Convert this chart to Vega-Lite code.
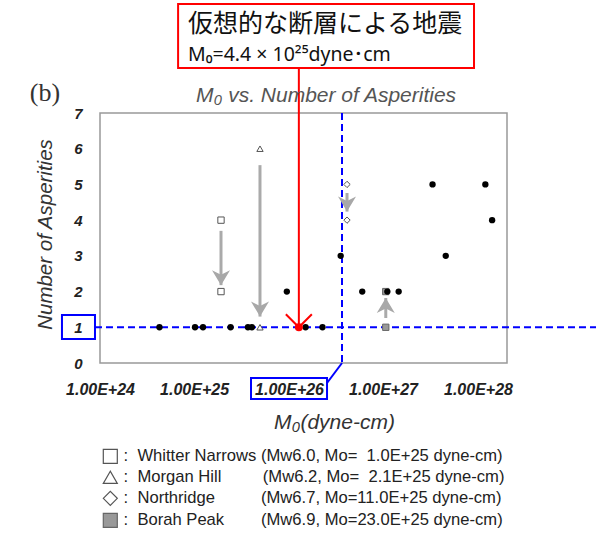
{
  "$schema": "https://vega.github.io/schema/vega-lite/v6.json",
  "width": 407,
  "height": 250,
  "autosize": {"type": "none"},
  "padding": {"left": 100, "top": 113, "right": 89, "bottom": 171},
  "background": "white",
  "config": {"view": {"stroke": "#999", "strokeWidth": 1.5}, "font": "Liberation Sans"},
  "datasets": {
    "dots": [
      {"M0": 3.1e24, "n": 1}, {"M0": 6.1e24, "n": 1}, {"M0": 7.1e24, "n": 1}, {"M0": 1.2e25, "n": 1},
      {"M0": 1.67e25, "n": 1}, {"M0": 1.8e25, "n": 1}, {"M0": 5.0e25, "n": 1}, {"M0": 6.9e25, "n": 1},
      {"M0": 3.5e25, "n": 2}, {"M0": 1.47e26, "n": 2}, {"M0": 2.37e26, "n": 2}, {"M0": 2.94e26, "n": 2},
      {"M0": 9.75e25, "n": 3}, {"M0": 7.2e26, "n": 3},
      {"M0": 1.74e27, "n": 4},
      {"M0": 5.6e26, "n": 5}, {"M0": 1.53e27, "n": 5}
    ],
    "events": [
      {"event": "Whitter Narrows", "M0": 1.0e25, "n": 4}, {"event": "Whitter Narrows", "M0": 1.0e25, "n": 2},
      {"event": "Morgan Hill", "M0": 2.1e25, "n": 6}, {"event": "Morgan Hill", "M0": 2.1e25, "n": 1},
      {"event": "Northridge", "M0": 1.1e26, "n": 5}, {"event": "Northridge", "M0": 1.1e26, "n": 4},
      {"event": "Borah Peak", "M0": 2.3e26, "n": 1}, {"event": "Borah Peak", "M0": 2.3e26, "n": 2}
    ],
    "arrows": [
      {"event": "Whitter Narrows", "M0": 1.0e25, "n": 2.18, "n2": 3.7, "dir": "down"},
      {"event": "Morgan Hill", "M0": 2.1e25, "n": 1.3, "n2": 5.54, "dir": "down"},
      {"event": "Northridge", "M0": 1.1e26, "n": 4.24, "n2": 4.76, "dir": "down"},
      {"event": "Borah Peak", "M0": 2.3e26, "n": 1.82, "n2": 1.26, "dir": "up"}
    ],
    "target": [{"label": "仮想的な断層による地震", "M0": 4.4e25, "n": 1, "n2": 8.26}]
  },
  "encoding": {
    "x": {
      "field": "M0", "type": "quantitative",
      "scale": {"type": "log", "domain": [1e24, 2.31e27], "nice": false},
      "axis": {
        "title": "M₀(dyne-cm)",
        "values": [1e24, 5.99e24, 3.65e25, 2.18e26, 1.33e27],
        "labelExpr": "datum.value < 2e24 ? '1.00E+24' : datum.value < 1e25 ? '1.00E+25' : datum.value < 1e26 ? '1.00E+26' : datum.value < 5e26 ? '1.00E+27' : '1.00E+28'",
        "ticks": false, "domain": false, "grid": false, "labelFlush": false, "labelOverlap": false,
        "labelFont": "Liberation Sans", "labelFontSize": 16, "labelFontStyle": "italic", "labelFontWeight": "bold",
        "labelColor": "#222", "labelPadding": 18,
        "titleFont": "Liberation Sans", "titleFontSize": 21, "titleFontStyle": "italic", "titleFontWeight": "normal",
        "titleColor": "#333", "titleX": 234, "titleY": 59, "titleBaseline": "middle", "titleAlign": "center"
      }
    },
    "y": {
      "field": "n", "type": "quantitative",
      "scale": {"domain": [0, 7], "nice": false, "zero": false},
      "axis": {
        "title": "Number of Asperities",
        "values": [0, 1, 2, 3, 4, 5, 6, 7],
        "ticks": false, "domain": false, "grid": false,
        "labelFont": "Liberation Sans", "labelFontSize": 15, "labelFontStyle": "italic", "labelFontWeight": "bold",
        "labelColor": "#222", "labelPadding": 18,
        "titleFont": "Liberation Sans", "titleFontSize": 20.5, "titleFontStyle": "italic", "titleFontWeight": "normal",
        "titleColor": "#333", "titleX": -55, "titleY": 121, "titleAngle": -90, "titleBaseline": "middle", "titleAlign": "center"
      }
    }
  },
  "layer": [
    {
      "data": {"values": [{"M0": 9.09e23, "M0b": 1.26e28, "n": 1}]},
      "mark": {"type": "rule", "stroke": "#0000ff", "strokeWidth": 2, "strokeDash": [7, 4]},
      "encoding": {"x2": {"field": "M0b"}}
    },
    {
      "data": {"values": [{"M0": 1e26, "n": 7, "n2": 0}]},
      "mark": {"type": "rule", "stroke": "#0000ff", "strokeWidth": 2, "strokeDash": [7, 4]},
      "encoding": {"y2": {"field": "n2"}}
    },
    {
      "data": {"values": [{"M0": 1e26, "M0b": 7.52e25, "n": 0, "n2": -0.56}]},
      "mark": {"type": "rule", "stroke": "#0000ff", "strokeWidth": 2},
      "encoding": {"x2": {"field": "M0b"}, "y2": {"field": "n2"}}
    },
    {
      "data": {"values": [
        {"M0": 4.85e23, "M0b": 9.09e23, "n": 1.344, "n2": 0.672},
        {"M0": 1.77e25, "M0b": 7.52e25, "n": -0.42, "n2": -1.008}
      ]},
      "mark": {"type": "rect", "fill": "transparent", "stroke": "#0000ff", "strokeWidth": 2},
      "encoding": {"x2": {"field": "M0b"}, "y2": {"field": "n2"}}
    },
    {
      "data": {"name": "arrows"},
      "mark": {"type": "rule", "stroke": "#aaaaaa", "strokeWidth": 3},
      "encoding": {"y2": {"field": "n2"}}
    },
    {
      "data": {"name": "arrows"},
      "transform": [{"filter": "datum.dir == 'down'"}],
      "mark": {"type": "point", "shape": "M0,0L-0.6,-1L0,-0.7L0.6,-1Z", "filled": true, "color": "#a8a8a8", "size": 900, "opacity": 1}
    },
    {
      "data": {"name": "arrows"},
      "transform": [{"filter": "datum.dir == 'up'"}],
      "mark": {"type": "point", "shape": "M0,0L-0.6,1L0,0.7L0.6,1Z", "filled": true, "color": "#a8a8a8", "size": 900, "opacity": 1}
    },
    {
      "data": {"name": "events"},
      "mark": {"type": "point", "strokeWidth": 1, "size": 40, "opacity": 1},
      "encoding": {
        "shape": {
          "field": "event", "type": "nominal",
          "scale": {"domain": ["Whitter Narrows", "Morgan Hill", "Northridge", "Borah Peak"], "range": ["square", "triangle-up", "diamond", "square"]},
          "legend": {
            "orient": "none", "legendX": 2, "legendY": 335, "title": null, "direction": "vertical",
            "symbolSize": 196, "symbolStrokeWidth": 1.2,
            "labelFont": "Liberation Sans", "labelFontSize": 16.6, "labelColor": "#222", "labelOffset": 5, "labelLimit": 600,
            "rowPadding": 2, "padding": 0,
            "labelExpr": "datum.label == 'Whitter Narrows' ? ':\u00a0\u00a0Whitter Narrows\u00a0(Mw6.0, Mo=\u00a0\u00a01.0E+25 dyne-cm)' : datum.label == 'Morgan Hill' ? ':\u00a0\u00a0Morgan Hill\u00a0\u00a0\u00a0\u00a0\u00a0\u00a0\u00a0\u00a0\u00a0(Mw6.2, Mo=\u00a0\u00a02.1E+25 dyne-cm)' : datum.label == 'Northridge' ? ':\u00a0\u00a0Northridge\u00a0\u00a0\u00a0\u00a0\u00a0\u00a0\u00a0\u00a0\u00a0\u00a0(Mw6.7, Mo=11.0E+25 dyne-cm)' : ':\u00a0\u00a0Borah Peak\u00a0\u00a0\u00a0\u00a0\u00a0\u00a0\u00a0\u00a0(Mw6.9, Mo=23.0E+25 dyne-cm)'"
          }
        },
        "fill": {
          "field": "event", "type": "nominal",
          "scale": {"domain": ["Whitter Narrows", "Morgan Hill", "Northridge", "Borah Peak"], "range": ["white", "white", "white", "#999999"]},
          "legend": {
            "orient": "none", "legendX": 2, "legendY": 335, "title": null, "direction": "vertical",
            "symbolSize": 196, "symbolStrokeWidth": 1.2,
            "labelFont": "Liberation Sans", "labelFontSize": 16.6, "labelColor": "#222", "labelOffset": 5, "labelLimit": 600,
            "rowPadding": 2, "padding": 0,
            "labelExpr": "datum.label == 'Whitter Narrows' ? ':\u00a0\u00a0Whitter Narrows\u00a0(Mw6.0, Mo=\u00a0\u00a01.0E+25 dyne-cm)' : datum.label == 'Morgan Hill' ? ':\u00a0\u00a0Morgan Hill\u00a0\u00a0\u00a0\u00a0\u00a0\u00a0\u00a0\u00a0\u00a0(Mw6.2, Mo=\u00a0\u00a02.1E+25 dyne-cm)' : datum.label == 'Northridge' ? ':\u00a0\u00a0Northridge\u00a0\u00a0\u00a0\u00a0\u00a0\u00a0\u00a0\u00a0\u00a0\u00a0(Mw6.7, Mo=11.0E+25 dyne-cm)' : ':\u00a0\u00a0Borah Peak\u00a0\u00a0\u00a0\u00a0\u00a0\u00a0\u00a0\u00a0(Mw6.9, Mo=23.0E+25 dyne-cm)'"
          }
        },
        "stroke": {
          "field": "event", "type": "nominal",
          "scale": {"domain": ["Whitter Narrows", "Morgan Hill", "Northridge", "Borah Peak"], "range": ["#555555", "#555555", "#555555", "#666666"]},
          "legend": {
            "orient": "none", "legendX": 2, "legendY": 335, "title": null, "direction": "vertical",
            "symbolSize": 196, "symbolStrokeWidth": 1.2,
            "labelFont": "Liberation Sans", "labelFontSize": 16.6, "labelColor": "#222", "labelOffset": 5, "labelLimit": 600,
            "rowPadding": 2, "padding": 0,
            "labelExpr": "datum.label == 'Whitter Narrows' ? ':\u00a0\u00a0Whitter Narrows\u00a0(Mw6.0, Mo=\u00a0\u00a01.0E+25 dyne-cm)' : datum.label == 'Morgan Hill' ? ':\u00a0\u00a0Morgan Hill\u00a0\u00a0\u00a0\u00a0\u00a0\u00a0\u00a0\u00a0\u00a0(Mw6.2, Mo=\u00a0\u00a02.1E+25 dyne-cm)' : datum.label == 'Northridge' ? ':\u00a0\u00a0Northridge\u00a0\u00a0\u00a0\u00a0\u00a0\u00a0\u00a0\u00a0\u00a0\u00a0(Mw6.7, Mo=11.0E+25 dyne-cm)' : ':\u00a0\u00a0Borah Peak\u00a0\u00a0\u00a0\u00a0\u00a0\u00a0\u00a0\u00a0(Mw6.9, Mo=23.0E+25 dyne-cm)'"
          }
        }
      }
    },
    {
      "data": {"name": "dots"},
      "mark": {"type": "point", "filled": true, "color": "#000000", "size": 40, "opacity": 1}
    },
    {
      "data": {"name": "target"},
      "mark": {"type": "rule", "stroke": "#ff0000", "strokeWidth": 2},
      "encoding": {"y2": {"field": "n2"}}
    },
    {
      "data": {"name": "target"},
      "mark": {"type": "point", "shape": "M-1,-1L0,0L1,-1", "filled": false, "color": "#ff0000", "strokeWidth": 2, "size": 676, "opacity": 1}
    },
    {
      "data": {"name": "target"},
      "mark": {"type": "point", "filled": true, "color": "#ff0000", "size": 64, "opacity": 1}
    },
    {
      "data": {"values": [{"M0": 4.42e24, "M0b": 1.233e27, "n": 10.05, "n2": 8.26}]},
      "mark": {"type": "rect", "fill": "white", "stroke": "#ff0000", "strokeWidth": 2},
      "encoding": {"x2": {"field": "M0b"}, "y2": {"field": "n2"}}
    },
    {
      "data": {"values": [{"text": "仮想的な断層による地震", "M0": 5.34e24, "n": 9.49}]},
      "mark": {"type": "text", "align": "left", "baseline": "middle", "font": "Noto Sans CJK JP", "fontSize": 25, "color": "#111"},
      "encoding": {"text": {"field": "text"}}
    },
    {
      "data": {"values": [{"text": "M₀=4.4 × 10²⁵dyne･cm", "M0": 5.34e24, "n": 8.62}]},
      "mark": {"type": "text", "align": "left", "baseline": "middle", "font": "'Noto Sans', 'Noto Sans CJK JP'", "fontSize": 19.5, "color": "#111"},
      "encoding": {"text": {"field": "text"}}
    },
    {
      "data": {"values": [{"text": "(b)", "M0": 3.51e23, "n": 7.55}]},
      "mark": {"type": "text", "align": "center", "baseline": "middle", "font": "Liberation Serif", "fontSize": 26, "color": "#333"},
      "encoding": {"text": {"field": "text"}}
    },
    {
      "data": {"values": [{"text": "M₀ vs. Number of Asperities", "M0": 7.38e25, "n": 7.476}]},
      "mark": {"type": "text", "align": "center", "baseline": "middle", "font": "Liberation Sans", "fontStyle": "italic", "fontSize": 21, "color": "#555"},
      "encoding": {"text": {"field": "text"}}
    }
  ]
}
